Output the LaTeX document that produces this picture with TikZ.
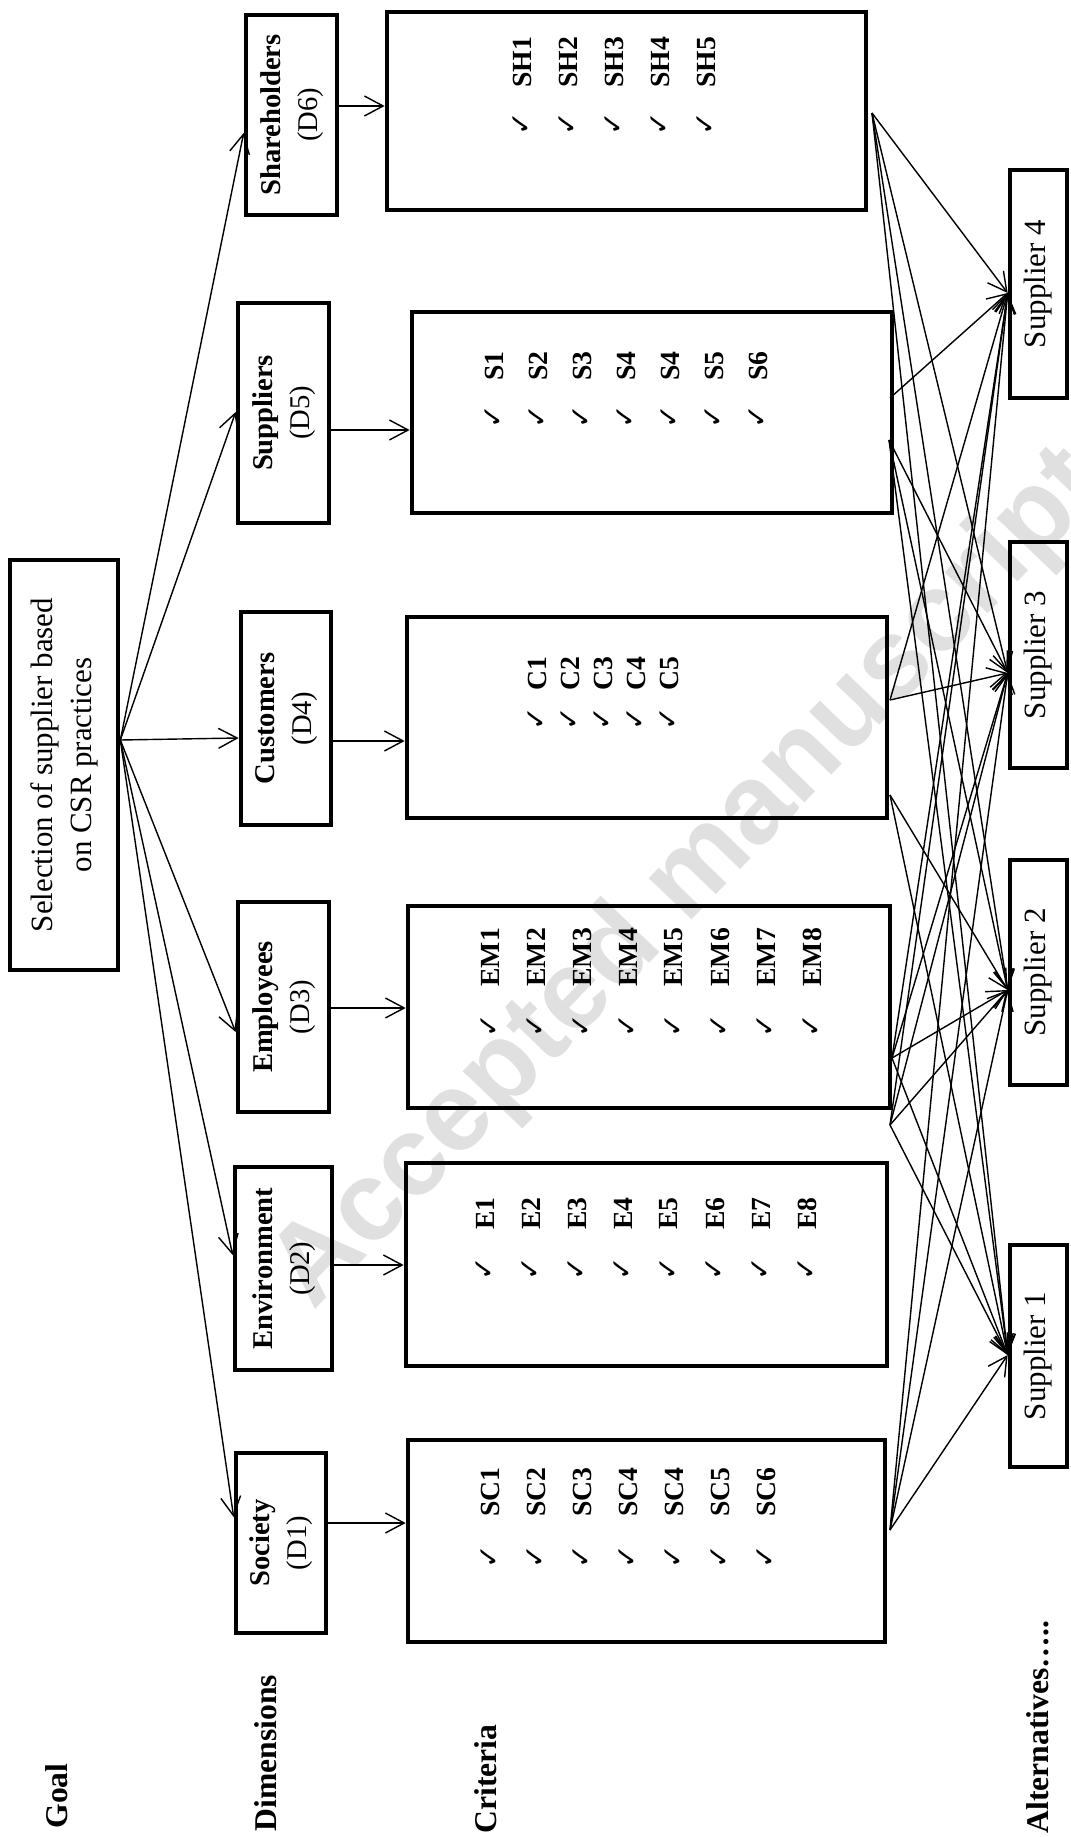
\documentclass[tikz,border=0pt]{standalone}
\usepackage{fontspec}
\setmainfont{Liberation Serif}
\newfontfamily\dejavu{DejaVu Sans}
\newfontfamily\wmfont{Liberation Sans}
\usetikzlibrary{arrows.meta,calc}
\def\pxu{0.4267pt}
\begin{document}
\begin{tikzpicture}[x=0.4267pt,y=-0.4267pt,
  box/.style={draw,line width=2pt,inner sep=0pt},
  conn/.style={line width=0.6pt,-{Straight Barb[length=8pt,width=8.5pt,line width=0.6pt]}},
  dimtxt/.style={font=\fontsize{12.2}{15.8}\selectfont},
  goaltxt/.style={font=\fontsize{13.2}{17}\selectfont},
  suptxt/.style={font=\fontsize{13.2}{15}\selectfont},
  sidelbl/.style={inner sep=0pt,anchor=south east,font=\bfseries\fontsize{13.5}{15}\selectfont},
  chk/.style={inner sep=0pt,font=\dejavu\fontsize{12}{12}\selectfont},
  lbl/.style={inner sep=0pt,anchor=south,font=\bfseries\fontsize{11.8}{12}\selectfont},
  wm/.style={inner sep=0pt,text=black!12,font=\wmfont\bfseries\fontsize{48}{48}\selectfont}]
\useasboundingbox (0,0) rectangle (1071,1837);
\begin{scope}
\clip (0,0) rectangle (1071,1837);
\node[wm,rotate=46] (watermark) at (690,880) {Accepted manuscript};
\end{scope}

% side labels
\node[sidelbl] (lgoal) at (68,1829) {\rotatebox{90}{Goal}};
\node[sidelbl] (ldim) at (277,1832) {\rotatebox{90}{Dimensions}};
\node[sidelbl] (lcrit) at (497,1834) {\rotatebox{90}{Criteria}};
\node[sidelbl] (lalt) at (1049,1834) {\rotatebox{90}{Alternatives…..}};

% goal
\node[box,goaltxt,minimum width=108*\pxu,minimum height=410*\pxu] (goal) at (64,765)
  {\rotatebox{90}{\begin{tabular}{@{}c@{}}Selection of supplier based\\on CSR practices\end{tabular}}};

% dimensions
\node[box,dimtxt,minimum width=91*\pxu,minimum height=200*\pxu] (dsh) at (291.5,115)
  {\rotatebox{90}{\begin{tabular}{@{}c@{}}\textbf{Shareholders}\\(D6)\end{tabular}}};
\node[box,dimtxt,minimum width=91*\pxu,minimum height=220*\pxu] (dsu) at (283.5,413)
  {\rotatebox{90}{\begin{tabular}{@{}c@{}}\textbf{Suppliers}\\(D5)\end{tabular}}};
\node[box,dimtxt,minimum width=90*\pxu,minimum height=213*\pxu] (dcu) at (286,718.5)
  {\rotatebox{90}{\begin{tabular}{@{}c@{}}\textbf{Customers}\\(D4)\end{tabular}}};
\node[box,dimtxt,minimum width=91*\pxu,minimum height=210*\pxu] (dem) at (283.5,1007)
  {\rotatebox{90}{\begin{tabular}{@{}c@{}}\textbf{Employees}\\(D3)\end{tabular}}};
\node[box,dimtxt,minimum width=97*\pxu,minimum height=203*\pxu] (den) at (283.5,1268.5)
  {\rotatebox{90}{\begin{tabular}{@{}c@{}}\textbf{Environment}\\(D2)\end{tabular}}};
\node[box,dimtxt,minimum width=90*\pxu,minimum height=180*\pxu] (dso) at (281,1543)
  {\rotatebox{90}{\begin{tabular}{@{}c@{}}\textbf{Society}\\(D1)\end{tabular}}};

% criteria boxes
\node[box,minimum width=479*\pxu,minimum height=198*\pxu] (csh) at (626.5,111) {};
\node[box,minimum width=480*\pxu,minimum height=201*\pxu] (csu) at (652,412.5) {};
\node[box,minimum width=480*\pxu,minimum height=201*\pxu] (ccu) at (647,717.5) {};
\node[box,minimum width=482*\pxu,minimum height=202*\pxu] (cem) at (649,1007) {};
\node[box,minimum width=481*\pxu,minimum height=203*\pxu] (cen) at (646.5,1264.5) {};
\node[box,minimum width=477*\pxu,minimum height=202*\pxu] (cso) at (646.5,1541) {};

% criteria items
\foreach \t [count=\i from 0] in {SH1,SH2,SH3,SH4,SH5}{
  \node[chk] (shk\i) at (522+46*\i,124) {\rotatebox{90}{✓}};
  \node[lbl] (shl\i) at (522+46*\i,88) {\rotatebox{90}{\t}};}
\foreach \t [count=\i from 0] in {S1,S2,S3,S4,S4,S5,S6}{
  \node[chk] (suk\i) at (494+44*\i,417) {\rotatebox{90}{✓}};
  \node[lbl] (sul\i) at (494+44*\i,381) {\rotatebox{90}{\t}};}
\foreach \t [count=\i from 0] in {C1,C2,C3,C4,C5}{
  \node[chk] (cuk\i) at (537+33*\i,719) {\rotatebox{90}{✓}};
  \node[lbl] (cul\i) at (537+33*\i,691) {\rotatebox{90}{\t}};}
\foreach \t [count=\i from 0] in {EM1,EM2,EM3,EM4,EM5,EM6,EM7,EM8}{
  \node[chk] (emk\i) at (490+46*\i,1026) {\rotatebox{90}{✓}};
  \node[lbl] (eml\i) at (490+46*\i,987) {\rotatebox{90}{\t}};}
\foreach \t [count=\i from 0] in {E1,E2,E3,E4,E5,E6,E7,E8}{
  \node[chk] (enk\i) at (485+46*\i,1269) {\rotatebox{90}{✓}};
  \node[lbl] (enl\i) at (485+46*\i,1230) {\rotatebox{90}{\t}};}
\foreach \t [count=\i from 0] in {SC1,SC2,SC3,SC4,SC4,SC5,SC6}{
  \node[chk] (sok\i) at (490+46*\i,1557) {\rotatebox{90}{✓}};
  \node[lbl] (sol\i) at (490+46*\i,1517) {\rotatebox{90}{\t}};}

% suppliers
\node[box,suptxt,minimum width=57*\pxu,minimum height=228*\pxu] (s4) at (1038.5,284) {\rotatebox{90}{Supplier 4}};
\node[box,suptxt,minimum width=57*\pxu,minimum height=226*\pxu] (s3) at (1038.5,655) {\rotatebox{90}{Supplier 3}};
\node[box,suptxt,minimum width=57*\pxu,minimum height=225*\pxu] (s2) at (1038.5,972.5) {\rotatebox{90}{Supplier 2}};
\node[box,suptxt,minimum width=57*\pxu,minimum height=222*\pxu] (s1) at (1038.5,1356) {\rotatebox{90}{Supplier 1}};

% goal -> dimensions
\coordinate (g0) at (goal.east |- 0,740);
\draw[conn] (g0) -- (dsh.west |- 0,133);
\draw[conn] (g0) -- (dsu.west |- 0,412);
\draw[conn] (g0) -- (dcu.west |- 0,738);
\draw[conn] (g0) -- (dem.west |- 0,1032);
\draw[conn] (g0) -- (den.west |- 0,1255);
\draw[conn] (g0) -- (dso.west |- 0,1517);

% dimensions -> criteria
\draw[conn] (dsh.east |- 0,106) -- (csh.west |- 0,106);
\draw[conn] (dsu.east |- 0,430) -- (csu.west |- 0,430);
\draw[conn] (dcu.east |- 0,741) -- (ccu.west |- 0,741);
\draw[conn] (dem.east |- 0,1008) -- (cem.west |- 0,1008);
\draw[conn] (den.east |- 0,1265) -- (cen.west |- 0,1265);
\draw[conn] (dso.east |- 0,1523) -- (cso.west |- 0,1523);

% criteria -> alternatives
\coordinate (osh) at (872,113);
\coordinate (osu) at (890,398);
\coordinate (osub) at (889,440);
\coordinate (ocu) at (890,700);
\coordinate (ocub) at (890,795);
\coordinate (oem) at (892,1058);
\coordinate (oen) at (890,1125);
\coordinate (oso) at (890,1530);
\coordinate (t4) at (s4.west |- 0,293);
\coordinate (t3) at (s3.west |- 0,673);
\coordinate (t2) at (s2.west |- 0,990);
\coordinate (t1) at (s1.west |- 0,1355);
\foreach \o/\t in {osh/t1,osh/t2,osh/t3,osh/t4,
                   osu/t4,osub/t3,osub/t2,osub/t1,
                   ocu/t4,ocu/t3,ocub/t2,ocub/t1,
                   oem/t1,oem/t2,oem/t3,oem/t4,
                   oen/t1,oen/t2,oen/t3,oen/t4,
                   oso/t1,oso/t2,oso/t3,oso/t4}{
  \draw[conn] (\o) -- (\t);}
\end{tikzpicture}
\end{document}
